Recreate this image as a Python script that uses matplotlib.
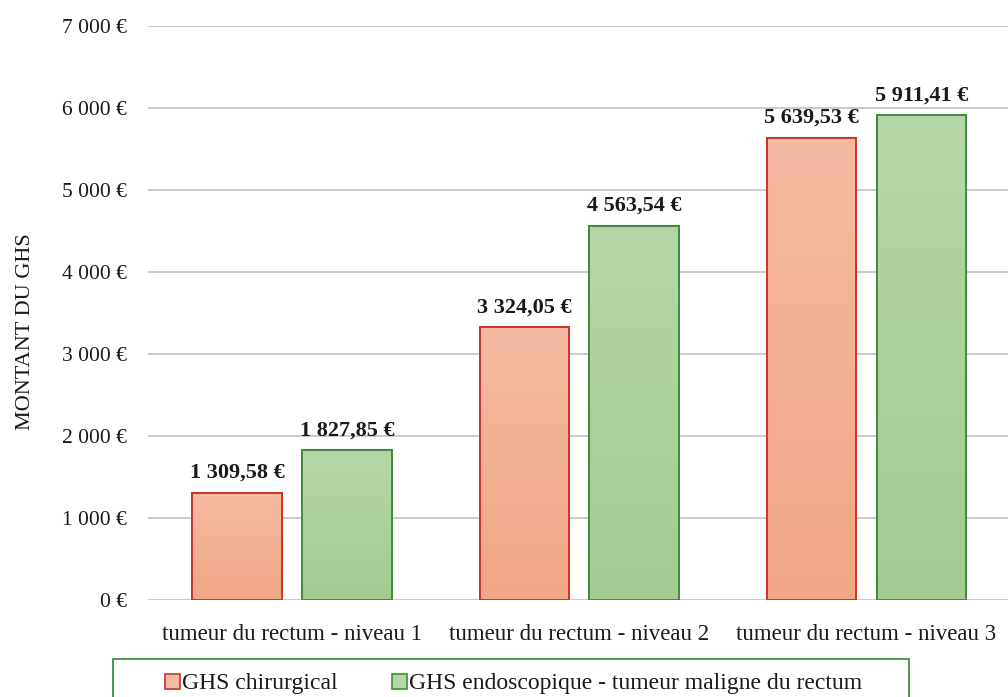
import matplotlib
matplotlib.use("Agg")
import matplotlib.pyplot as plt
import numpy as np
from matplotlib.colors import LinearSegmentedColormap
from matplotlib.patches import Rectangle

categories = ["tumeur du rectum - niveau 1",
              "tumeur du rectum - niveau 2",
              "tumeur du rectum - niveau 3"]
chirurgical = [1309.58, 3324.05, 5639.53]
endoscopique = [1827.85, 4563.54, 5911.41]
series_names = ["GHS chirurgical",
                "GHS endoscopique - tumeur maligne du rectum"]
yticks = [0, 1000, 2000, 3000, 4000, 5000, 6000, 7000]


def euro(v, decimals=0):
    s = f"{v:,.{decimals}f}"
    s = s.replace(",", " ").replace(".", ",")
    return s + " €"


serif = "Liberation Serif"
ink = "#1a1a1a"
W, H = 1008, 697
fig = plt.figure(figsize=(W / 100, H / 100), dpi=100)
ax = fig.add_axes([148 / W, 97 / H, 1 - 148 / W, 574 / H])

x = np.arange(len(categories))
width = 0.313
offset = 0.1915

styles = [
    dict(top="#F5BAA2", bottom="#F2A684", edge="#C9342A"),
    dict(top="#B6D6A8", bottom="#A3CB91", edge="#3E8E3A"),
]

for vals, sgn, st in zip([chirurgical, endoscopique], [-1, 1], styles):
    bars = ax.bar(x + sgn * offset, vals, width=width, facecolor=st["bottom"],
                  edgecolor=st["edge"], linewidth=1.4, zorder=3)
    cmap = LinearSegmentedColormap.from_list("g", [st["bottom"], st["top"]])
    for b, v in zip(bars, vals):
        x0 = b.get_x()
        grad = np.linspace(0, 1, 256).reshape(-1, 1)
        im = ax.imshow(grad, cmap=cmap, origin="lower", aspect="auto",
                       extent=[x0, x0 + b.get_width(), 0, v], zorder=3.5)
        im.set_clip_path(b)
        ax.add_patch(Rectangle((x0, 0), b.get_width(), v, fill=False,
                               edgecolor=st["edge"], linewidth=1.4, zorder=4))
        ax.text(b.get_x() + b.get_width() / 2, v + 120, euro(v, 2),
                ha="center", va="bottom", fontsize=16, fontweight="bold",
                family=serif, color=ink, zorder=5)

ax.set_xlim(-0.503, 2.493)
ax.set_ylim(0, 7000)
ax.set_yticks(yticks)
ax.set_yticklabels([euro(t) for t in yticks], family=serif, fontsize=15.5,
                   color=ink)
ax.set_xticks(x)
ax.set_xticklabels(categories, family=serif, fontsize=16.5, color=ink)
ax.tick_params(axis="y", length=0, pad=15)
ax.tick_params(axis="x", length=0, pad=17)
ax.grid(axis="y", color="#CACACA", linewidth=1.4, zorder=0)
ax.set_axisbelow(True)
for sp in ax.spines.values():
    sp.set_visible(False)
ax.set_ylabel("MONTANT DU GHS", family=serif, fontsize=16, color=ink)
ax.yaxis.set_label_coords(-113 / 860, 0.467)

# legend frame runs past the lower edge of the figure
fig.patches.append(Rectangle((113 / W, -0.05), (909 - 113) / W,
                             0.05 + (H - 659) / H, transform=fig.transFigure,
                             facecolor="white", edgecolor="#4E9A4A",
                             linewidth=1.4))

handles = [Rectangle((0, 0), 1, 1, facecolor=st["top"], edgecolor=st["edge"],
                     linewidth=1.2) for st in styles]
leg = fig.legend(handles, series_names, loc="center left",
                 bbox_to_anchor=(165 / W, 1 - 684 / H), ncol=2,
                 prop=dict(family=serif, size=17), frameon=False,
                 handlelength=0.62, handleheight=0.62,
                 handletextpad=0.1, columnspacing=2.3, borderpad=0,
                 borderaxespad=0)
for t in leg.get_texts():
    t.set_color(ink)

fig.savefig("out.png", dpi=100)
